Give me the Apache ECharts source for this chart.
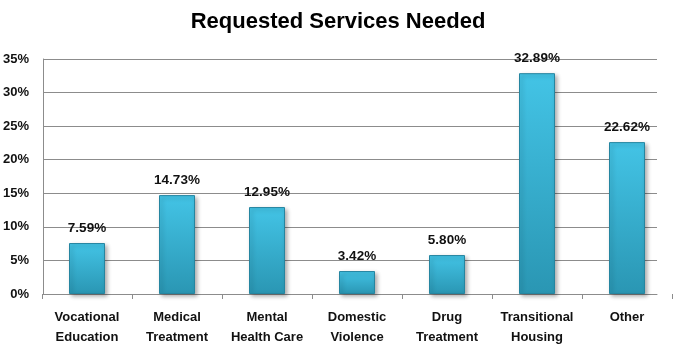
<!DOCTYPE html>
<html>
<head>
<meta charset="utf-8">
<script src="https://cdn.jsdelivr.net/npm/echarts@6/dist/echarts.min.js"></script>
<style>html,body{margin:0;padding:0;background:#fff;}#c{width:683px;height:364px;}</style>
</head>
<body>
<div id="c"></div>
<script>
const titleText = "Requested Services Needed";
const categories = ["Vocational\nEducation", "Medical\nTreatment", "Mental\nHealth Care", "Domestic\nViolence", "Drug\nTreatment", "Transitional\nHousing", "Other"];
const values = [7.59, 14.73, 12.95, 3.42, 5.80, 32.89, 22.62];
const yMin = 0, yMax = 35, yStep = 5;

const chart = echarts.init(document.getElementById('c'), null, {renderer: 'canvas'});
const txt = '#111';
chart.setOption({
  animation: false,
  backgroundColor: '#fff',
  title: {
    text: titleText, left: 333, top: 6, textAlign: 'center',
    textStyle: {fontFamily: 'Liberation Sans', fontWeight: 'bold', fontSize: 22, color: '#000'}
  },
  grid: [
    {left: 42, right: 26, top: 59, bottom: 70},
    {left: 42, right: 11, top: 59, bottom: 70}
  ],
  xAxis: [
    {gridIndex: 0, type: 'value', min: 0, max: 1, show: true,
     axisLine: {show: true, lineStyle: {color: '#8c8c8c'}}, axisTick: {show: false},
     axisLabel: {show: false}, splitLine: {show: false}},
    {gridIndex: 1, type: 'category', data: categories, boundaryGap: true,
     axisLine: {show: false},
     axisTick: {show: true, length: 5, lineStyle: {color: '#8c8c8c'}},
     axisLabel: {color: txt, fontFamily: 'Liberation Sans', fontWeight: 'bold', fontSize: 13, lineHeight: 20, margin: 13, interval: 0}}
  ],
  yAxis: [
    {gridIndex: 0, type: 'value', min: yMin, max: yMax, interval: yStep,
     axisLine: {show: true, lineStyle: {color: '#8c8c8c'}}, axisTick: {show: false},
     axisLabel: {formatter: v => v + '%', color: txt, fontFamily: 'Liberation Sans', fontWeight: 'bold', fontSize: 13, margin: 14},
     splitLine: {show: true, lineStyle: {color: '#8c8c8c', width: 1}}},
    {gridIndex: 1, type: 'value', min: yMin, max: yMax, interval: yStep, show: false, splitLine: {show: false}}
  ],
  series: [{
    type: 'bar', xAxisIndex: 1, yAxisIndex: 1, data: values, barWidth: 36,
    itemStyle: {
      color: new echarts.graphic.LinearGradient(0, 0, 0, 1, [
        {offset: 0, color: '#43c4e6'}, {offset: 1, color: '#2a96b3'}
      ]),
      borderColor: '#2585a0', borderWidth: 1,
      shadowColor: 'rgba(0,0,0,0.3)', shadowBlur: 4, shadowOffsetX: 2, shadowOffsetY: 2
    },
    label: {show: true, position: 'top', distance: 8, formatter: p => p.value.toFixed(2) + '%',
      color: txt, fontFamily: 'Liberation Sans', fontWeight: 'bold', fontSize: 13.5}
  }]
});
</script>
</body>
</html>
